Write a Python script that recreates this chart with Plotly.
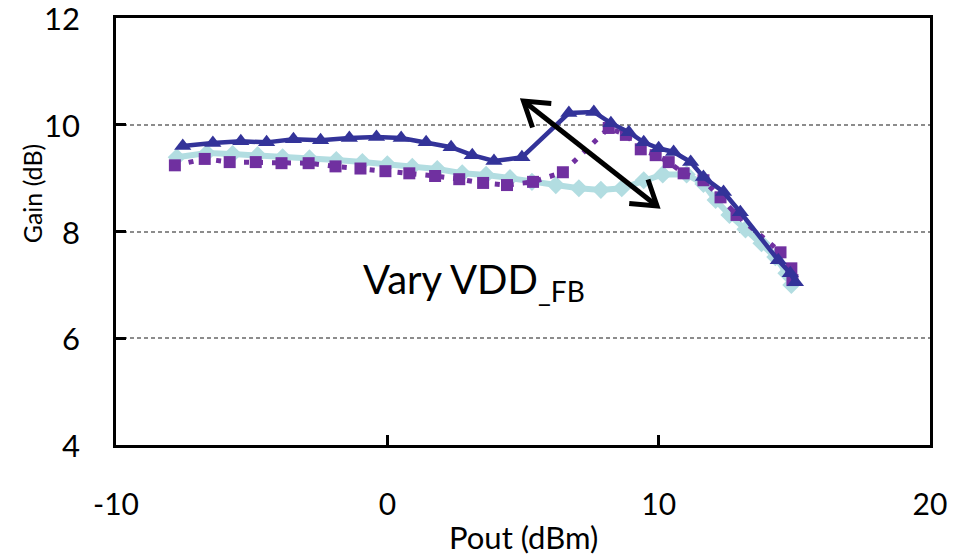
import plotly.graph_objects as go
import math

# ---- data ----
blue_x = [-7.54, -6.43, -5.40, -4.45, -3.46, -2.46, -1.40, -0.40, 0.51, 1.43, 2.35, 3.13, 3.93,
          4.96, 6.69, 7.61, 8.24, 8.90, 9.45, 10.00, 10.55, 11.18, 11.65, 12.39, 13.01, 14.41, 14.85, 15.04]
blue_y = [9.60, 9.66, 9.69, 9.67, 9.73, 9.71, 9.75, 9.77, 9.75, 9.67, 9.58, 9.43, 9.32,
          9.39, 10.22, 10.24, 10.03, 9.86, 9.67, 9.56, 9.49, 9.30, 9.02, 8.74, 8.36, 7.46, 7.22, 7.05]

purple_x = [-7.83, -6.73, -5.81, -4.85, -3.90, -2.90, -1.91, -0.99, -0.07, 0.81, 1.76, 2.65, 3.53,
            4.41, 5.37, 6.47, 8.16, 8.79, 9.34, 9.89, 10.37, 10.92, 11.65, 12.28, 12.87, 14.49, 14.89, 14.93]
purple_y = [9.24, 9.36, 9.30, 9.30, 9.28, 9.28, 9.22, 9.18, 9.13, 9.09, 9.04, 8.98, 8.91,
            8.87, 8.93, 9.11, 9.94, 9.81, 9.54, 9.43, 9.30, 9.09, 8.96, 8.64, 8.31, 7.61, 7.31, 7.09]

cyan_x = [-7.76, -6.65, -5.70, -4.78, -3.86, -2.87, -1.88, -0.92, 0.00, 0.92, 1.84, 2.76, 3.64,
          4.52, 5.33, 6.21, 7.06, 7.87, 8.64, 9.45, 10.15, 11.03, 11.65, 12.10, 12.61, 13.20,
          13.79, 14.30, 14.71, 14.89]
cyan_y = [9.39, 9.47, 9.45, 9.43, 9.39, 9.37, 9.34, 9.30, 9.26, 9.21, 9.17, 9.09, 9.06,
          9.00, 8.93, 8.87, 8.81, 8.78, 8.81, 8.96, 9.07, 9.07, 8.89, 8.59, 8.31, 8.04,
          7.78, 7.52, 7.22, 7.00]

x_ticks = [-10, 0, 10, 20]
x_tick_text = ["-10", "0", "10", "20"]
y_ticks = [4, 6, 8, 10, 12]
y_tick_text = ["4", "6", "8", "10", "12"]
x_title = "Pout (dBm)"
y_title = "Gain (dB)"
note = "Vary VDD<sub>_FB</sub>"

FONT = "Lato"
W, H = 959, 557
ML, MR, MT, MB = 116, 26, 18, 112
XR = [-10, 20]
YR = [4, 12]

fig = go.Figure()
fig.add_trace(go.Scatter(x=cyan_x, y=cyan_y, mode="lines+markers",
                         line=dict(color="#B2DDE1", width=6),
                         marker=dict(symbol="diamond", size=14, color="#B2DDE1"),
                         showlegend=False))
fig.add_trace(go.Scatter(x=purple_x, y=purple_y, mode="lines+markers",
                         line=dict(color="#7030A0", width=5, dash="5px,9px"),
                         marker=dict(symbol="square", size=12, color="#7030A0"),
                         showlegend=False))
fig.add_trace(go.Scatter(x=blue_x, y=blue_y, mode="lines+markers",
                         line=dict(color="#333399", width=4.5),
                         marker=dict(symbol="triangle-up", size=15, color="#333399"),
                         showlegend=False))

# ---- double-headed arrow (annotation), defined in pixel space ----
pw = W - ML - MR
ph = H - MT - MB


def px2x(px):
    return XR[0] + (px - ML) / pw * (XR[1] - XR[0])


def py2y(py):
    return YR[0] + (MT + ph - py) / ph * (YR[1] - YR[0])


p1 = (525, 101)
p2 = (659, 206)
ang = math.atan2(p2[1] - p1[1], p2[0] - p1[0])
L = 28
spread = math.radians(33)


def head(tip, direction):
    pts = []
    for s in (-spread, spread):
        a = direction + math.pi + s
        pts.append((tip[0] + L * math.cos(a), tip[1] + L * math.sin(a)))
    return pts


def path_of(pts):
    return "M " + " L ".join(f"{px2x(a):.4f},{py2y(b):.4f}" for a, b in pts)


h1 = head(p1, ang + math.pi)
h2 = head(p2, ang)
arrow_line = dict(color="black", width=5)
fig.add_shape(type="path", path=path_of([p1, p2]), xref="x", yref="y", line=arrow_line)
fig.add_shape(type="path", path=path_of([h1[0], p1, h1[1]]), xref="x", yref="y", line=arrow_line)
fig.add_shape(type="path", path=path_of([h2[0], p2, h2[1]]), xref="x", yref="y", line=arrow_line)

fig.add_annotation(x=px2x(362), y=py2y(281), xref="x", yref="y", text=note,
                   showarrow=False, xanchor="left", yanchor="middle",
                   font=dict(family=FONT, size=40, color="black"))

fig.add_annotation(x=(525 - ML) / pw, y=(MT + ph - 537) / ph, xref="paper", yref="paper",
                   text=x_title, showarrow=False, xanchor="center", yanchor="middle",
                   font=dict(family=FONT, size=31, color="black"))
fig.add_annotation(x=(32 - ML) / pw, y=(MT + ph - 193) / ph, xref="paper", yref="paper",
                   text=y_title, showarrow=False, xanchor="center", yanchor="middle",
                   textangle=-90, font=dict(family=FONT, size=25, color="black"))

# y tick labels placed on the y scale
for v, t in zip(y_ticks, y_tick_text):
    fig.add_annotation(x=(82 - ML) / pw, y=v, xref="paper", yref="y", text=t,
                       showarrow=False, xanchor="right", yanchor="middle",
                       font=dict(family=FONT, size=31, color="black"))

axis_common = dict(showline=True, linecolor="black", linewidth=3, mirror=True,
                   ticks="inside", ticklen=10, tickwidth=3, tickcolor="black",
                   tickfont=dict(family=FONT, size=30, color="black"), zeroline=False)

fig.update_xaxes(range=XR, tickvals=x_ticks, ticktext=x_tick_text, showgrid=False,
                 ticklabelstandoff=31, **axis_common)
fig.update_yaxes(range=YR, tickvals=y_ticks, showticklabels=False, showgrid=True,
                 gridcolor="#8c8c8c", gridwidth=1.5, griddash="4px,3px", **axis_common)

fig.update_layout(width=W, height=H, margin=dict(l=ML, r=MR, t=MT, b=MB),
                  plot_bgcolor="white", paper_bgcolor="white",
                  font=dict(family=FONT, color="black"))

fig.write_html("out.html")
